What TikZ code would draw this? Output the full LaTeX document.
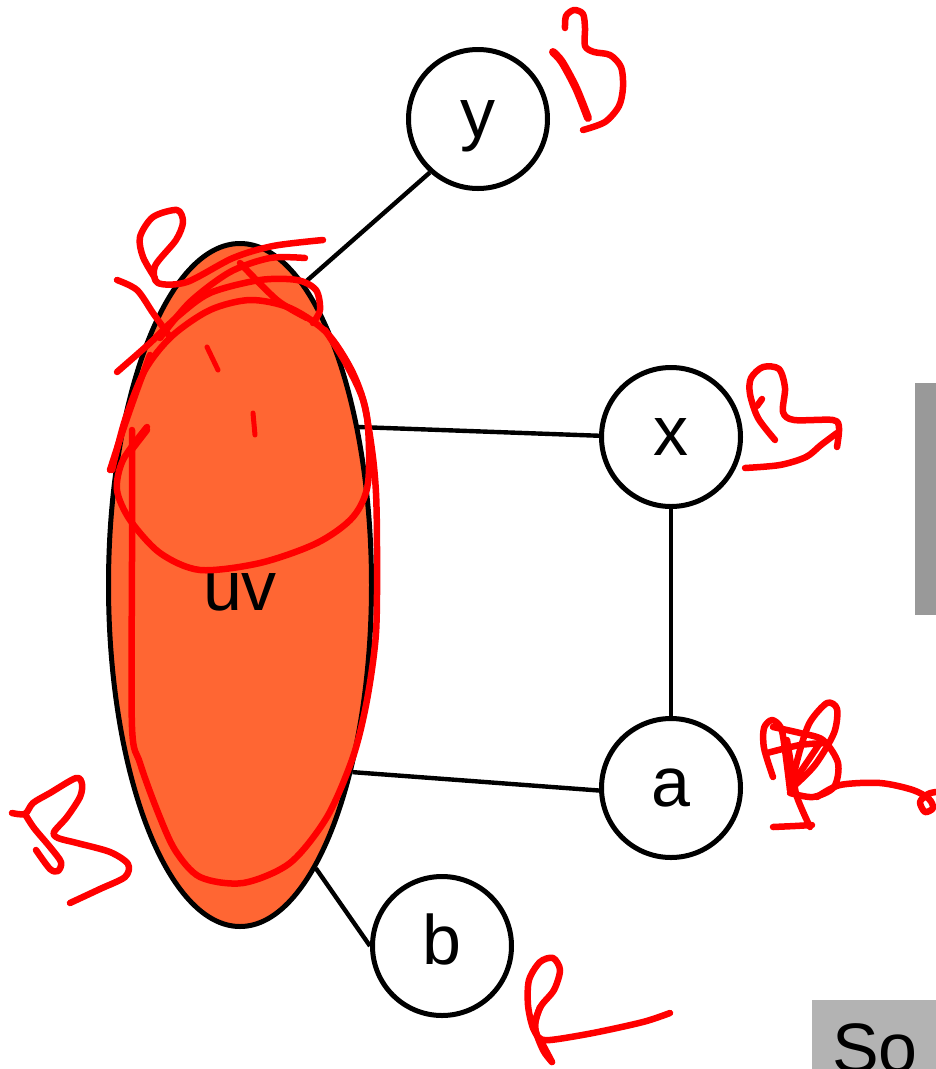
\documentclass[tikz,border=0pt]{standalone}
\usepackage{fontspec}
\setmainfont{Liberation Sans}
\usetikzlibrary{shapes.geometric}
\definecolor{blob}{RGB}{255,102,51}
\definecolor{ink}{RGB}{255,0,0}
\definecolor{barg}{RGB}{153,153,153}
\definecolor{boxg}{RGB}{179,179,179}

\begin{document}
\begin{tikzpicture}[x=1pt,y=-1pt,
  vertex/.style={circle,draw=black,line width=5pt,fill=white,minimum size=139pt,
    inner sep=0pt,font=\fontsize{70}{84}\selectfont,text height=36pt,text depth=0pt},
  merged/.style={ellipse,draw=black,line width=5pt,fill=blob,minimum width=263pt,
    minimum height=683pt,inner sep=0pt,font=\fontsize{70}{84}\selectfont,
    text height=50pt,text depth=0pt},
  edge/.style={line width=4.4pt},
  pen/.style={ink,line width=6.5pt,line cap=round,line join=round}]
\useasboundingbox (0,0) rectangle (936,1069);

% side panels
\fill[barg] (915,383) rectangle (936,615);
\fill[boxg] (812,1000) rectangle (936,1069);
\node[anchor=base west,inner sep=0pt,font=\fontsize{70}{84}\selectfont] (so) at (832,1072) {So};

% graph
\node[merged] (uv) at (240,585) {uv};
\node[vertex] (y) at (478,119) {y};
\node[vertex] (x) at (671,437) {x};
\node[vertex] (a) at (671,788) {a};
\node[vertex] (b) at (442,946) {b};

\draw[edge] (y.228) -- (uv.78.4);
\draw[edge] (x.179) -- (uv.53.5);
\draw[edge] (x.south) -- (a.north);
\draw[edge] (a.182) -- (uv.-59);
\draw[edge] (b.180) -- (uv.-75);

% handwritten marks: B next to y
\draw[pen,line width=8pt] plot[smooth] coordinates {(553,52) (562,62) (576,88) (588,118)};
\draw[pen] plot[smooth] coordinates {(565,28) (566,16) (574,10) (583,14) (585,28) (585,46) (594,52) (610,55) (621,67) (623,87) (619,106) (605,122) (583,130)};

% B next to x
\draw[pen] plot[smooth] coordinates {(775,440) (758,418) (750,394) (751,378) (763,367) (779,369) (785,388) (783,412) (794,420) (833,420) (839,428) (837,447)};
\draw[pen] plot[smooth] coordinates {(745,468) (780,465) (806,457) (821,445) (837,433)};
\draw[pen] (762,399) -- (757,406);

% B next to a
\draw[pen] plot[smooth] coordinates {(773,777) (764,748) (764,728) (772,720) (781,728) (785,750) (790,790)};
\draw[pen] plot[smooth] coordinates {(790,790) (800,750) (810,722) (827,703) (837,709) (834,733) (815,765) (793,787)};
\draw[pen] plot[smooth] coordinates {(767,753) (800,745) (827,743)};
\draw[pen] plot[smooth] coordinates {(773,727) (800,733) (823,740) (838,763) (834,787) (813,797) (790,793)};
\draw[pen] plot[smooth] coordinates {(787,740) (792,770) (797,797) (810,827)};
\draw[pen] plot[smooth] coordinates {(773,827) (795,826) (812,825)};
\draw[pen] (820,743) -- (797,777);
\draw[pen] plot[smooth] coordinates {(817,797) (840,785) (880,783) (913,790) (929,799) (933,808) (925,812) (920,802) (928,794) (936,792)};

% B at lower left
\draw[pen] plot[smooth] coordinates {(12,813) (25,814) (33,803) (50,793) (76,778) (82,784) (80,797) (67,817) (54,832) (58,838) (77,843) (110,852) (128,864) (125,877) (100,889) (70,903)};
\draw[pen] plot[smooth] coordinates {(25,814) (34,828) (50,847) (61,862) (58,871) (50,869) (36,850)};

% R next to b
\draw[pen] plot[smooth] coordinates {(552,1062) (543,1045) (533,1028) (528,1005) (529,980) (540,962) (553,958) (560,970) (554,990) (541,1006) (535,1023) (538,1037) (550,1040) (593,1033) (643,1022) (670,1013)};
\draw[pen] plot[smooth] coordinates {(540,1007) (535,1027) (543,1050) (552,1062)};

% marks over the merged vertex
\draw[pen] plot[smooth] coordinates {(117,280) (137,290) (153,313) (170,337)};
\draw[pen] plot[smooth] coordinates {(155,278) (143,257) (140,237) (153,217) (177,210) (183,222) (176,240) (155,266) (158,283) (187,282) (233,258) (273,246) (323,240)};
\draw[pen] plot[smooth] coordinates {(117,372) (150,343) (177,317) (210,293) (260,280) (297,280) (316,290) (320,310) (313,323)};
\draw[pen] plot[smooth] coordinates {(240,263) (277,300) (307,318)};
\draw[pen] plot[smooth] coordinates {(160,338) (190,302) (230,272) (270,258) (305,258)};
\draw[pen] plot[smooth] coordinates {(112,470) (125,420) (145,370) (172,336) (210,310) (250,300) (290,308) (327,333) (353,373) (367,417) (368,483) (353,517) (317,543) (260,563) (200,570) (160,553) (130,520) (117,490) (123,460) (147,427)};
\draw[pen] plot[smooth] coordinates {(132,430) (132,560) (132,727) (140,763) (157,810) (175,850) (200,877) (243,883) (290,863) (327,817) (353,757) (367,700) (376,633) (377,550) (376,493) (372,450) (363,400) (345,362) (325,330)};
\draw[pen] plot[smooth] coordinates {(110,470) (123,430) (137,390) (150,355)};
\draw[pen] (130,452) -- (147,430);
\draw[pen,line width=5pt] (207,347) -- (218,370);
\draw[pen,line width=5pt] (253,413) -- (255,435);
\end{tikzpicture}
\end{document}
